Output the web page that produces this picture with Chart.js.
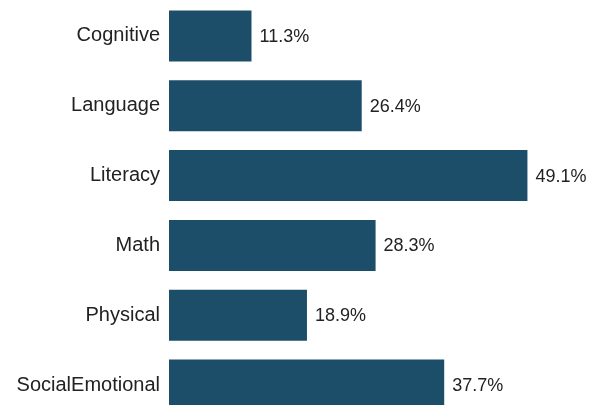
<!DOCTYPE html>
<html>
<head>
<meta charset="utf-8">
<script src="https://cdn.jsdelivr.net/npm/chart.js@4.4.1/dist/chart.umd.min.js"></script>
<style>
  html, body { margin: 0; padding: 0; background: #ffffff; overflow: hidden; }
  canvas { display: block; }
</style>
</head>
<body>
<canvas id="domainChart" width="607" height="420"></canvas>
<script>
const domains = ['Cognitive', 'Language', 'Literacy', 'Math', 'Physical', 'SocialEmotional'];
const percentages = [11.3, 26.4, 49.1, 28.3, 18.9, 37.7];

// writes the percentage just past the end of each bar
const barValueLabels = {
    id: 'barValueLabels',
    afterDatasetsDraw(chart) {
        const ctx = chart.ctx;
        const meta = chart.getDatasetMeta(0);
        ctx.save();
        ctx.font = '18px "Liberation Sans", Arial, sans-serif';
        ctx.fillStyle = '#222222';
        ctx.textAlign = 'left';
        ctx.textBaseline = 'middle';
        meta.data.forEach((bar, i) => {
            ctx.fillText(percentages[i].toFixed(1) + '%', bar.x + 8, bar.y + 1);
        });
        ctx.restore();
    }
};

const ctx = document.getElementById('domainChart');
const domainChart = new Chart(ctx, {
    type: 'bar',
    data: {
        labels: domains,
        datasets: [
            {
                data: percentages,
                backgroundColor: '#1c4e69',
                borderWidth: 0,
                categoryPercentage: 1.0,
                barPercentage: 0.73
            }
        ]
    },
    options: {
        indexAxis: 'y',
        responsive: false,
        animation: false,
        layout: { padding: { top: 1, right: 0, bottom: 0, left: 0 } },
        scales: {
            x: {
                display: false,
                min: 0,
                max: 60
            },
            y: {
                grid: { display: false },
                border: { display: false },
                ticks: {
                    padding: 1,
                    color: '#222222',
                    font: { family: '"Liberation Sans", Arial, sans-serif', size: 20 }
                },
                afterFit(scale) {
                    // fixed label column, and no extra room above/below the bars
                    scale.width = 169;
                    scale.paddingTop = 0;
                    scale.paddingBottom = 0;
                }
            }
        },
        plugins: {
            legend: { display: false },
            tooltip: { enabled: false }
        }
    },
    plugins: [barValueLabels]
});
</script>
</body>
</html>
